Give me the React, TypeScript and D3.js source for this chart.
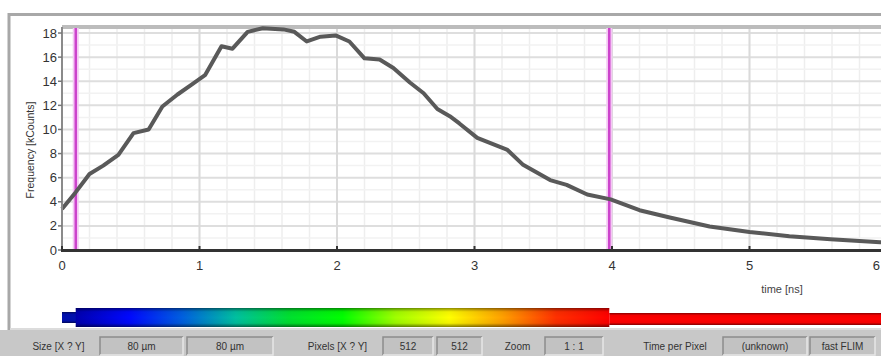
import React, { useEffect, useRef } from "react";
import * as d3 from "d3";

// decay curve (time in ns, frequency in kCounts)
const times = [0, 0.1, 0.2, 0.3, 0.41, 0.52, 0.63, 0.73, 0.84, 0.94, 1.04, 1.16, 1.24, 1.35, 1.46, 1.61, 1.69, 1.78, 1.88, 1.99, 2.09, 2.2, 2.31, 2.41, 2.53, 2.63, 2.73, 2.82, 2.89, 3.02, 3.24, 3.35, 3.55, 3.67, 3.82, 3.99, 4.2, 4.42, 4.71, 5.0, 5.29, 5.59, 5.95, 6.0];
const counts = [3.4, 4.8, 6.3, 7.0, 7.9, 9.7, 10.0, 11.9, 12.9, 13.7, 14.5, 16.9, 16.7, 18.1, 18.4, 18.3, 18.1, 17.3, 17.7, 17.8, 17.3, 15.9, 15.8, 15.1, 13.9, 13.0, 11.7, 11.1, 10.5, 9.3, 8.3, 7.1, 5.8, 5.4, 4.6, 4.2, 3.3, 2.7, 1.95, 1.5, 1.15, 0.9, 0.65, 0.6];

const markerTimes = [0.1, 3.98];
const xTicks = [0, 1, 2, 3, 4, 5, 6];
const yTicks = [0, 2, 4, 6, 8, 10, 12, 14, 16, 18];

const spectrum = ["#0000b0", "#0008ff", "#0060e0", "#00c0a0", "#00e030", "#00ff00", "#a0ff00", "#ffff00", "#ffa000", "#ff3000", "#ff0000"];

const statusLabels = ["Size [X ? Y]", "80 µm", "80 µm", "Pixels [X ? Y]", "512", "512", "Zoom", "1 : 1", "Time per Pixel", "(unknown)", "fast FLIM"];
const statusBoxed = [false, true, true, false, true, true, false, true, false, true, true];
const statusSpans = [[20, 97], [100, 183], [187, 273], [295, 380], [383, 433], [437, 482], [495, 540], [545, 603], [630, 720], [723, 807], [810, 875]];

const W = 881;
const H = 356;

const App = () => {
  const ref = useRef<SVGSVGElement>(null);

  useEffect(() => {
    const svg = d3.select(ref.current);
    svg.selectAll("*").remove();
    const font = "Arial, 'Liberation Sans', sans-serif";

    const x = d3.scaleLinear().domain([0, 6]).range([62, 887]);
    const y = d3.scaleLinear().domain([0, 18.5]).range([250, 27]);

    // outer frame
    svg.append("rect").attr("x", 0).attr("y", 0).attr("width", W).attr("height", H).attr("fill", "#fff");
    svg.append("line").attr("x1", 8).attr("x2", W).attr("y1", 14.5).attr("y2", 14.5).attr("stroke", "#a8a8a8").attr("stroke-width", 3);
    svg.append("line").attr("x1", 9).attr("x2", 9).attr("y1", 13).attr("y2", 330).attr("stroke", "#a8a8a8").attr("stroke-width", 3);

    const g = svg.append("g");

    // minor grid
    const minorX = d3.range(0, 6.01, 0.2);
    g.selectAll(".mx").data(minorX).enter().append("line")
      .attr("x1", (d) => x(d)).attr("x2", (d) => x(d))
      .attr("y1", y(18.5)).attr("y2", y(0))
      .attr("stroke", "#eeeeee").attr("stroke-width", 1.5);
    g.selectAll(".my").data(d3.range(1, 18.5, 2)).enter().append("line")
      .attr("x1", 62).attr("x2", W)
      .attr("y1", (d) => y(d)).attr("y2", (d) => y(d))
      .attr("stroke", "#f2f2f2").attr("stroke-width", 1.5);

    // major grid
    g.selectAll(".gy").data(yTicks.slice(1)).enter().append("line")
      .attr("x1", 62).attr("x2", W)
      .attr("y1", (d) => y(d)).attr("y2", (d) => y(d))
      .attr("stroke", "#dedede").attr("stroke-width", 2);
    g.selectAll(".gx").data(xTicks.slice(1)).enter().append("line")
      .attr("x1", (d) => x(d)).attr("x2", (d) => x(d))
      .attr("y1", y(18.5)).attr("y2", y(0))
      .attr("stroke", "#dadada").attr("stroke-width", 2);

    // top band of plot
    g.append("rect").attr("x", 62).attr("y", 25).attr("width", W - 62).attr("height", 4).attr("fill", "#bcbcbc");

    // markers
    markerTimes.forEach((t) => {
      g.append("line").attr("x1", x(t)).attr("x2", x(t)).attr("y1", 28).attr("y2", 250)
        .attr("stroke", "#f4c8f4").attr("stroke-width", 6);
      g.append("line").attr("x1", x(t)).attr("x2", x(t)).attr("y1", 28).attr("y2", 250)
        .attr("stroke", "#cc44cc").attr("stroke-width", 2.5);
    });

    // curve
    const line = d3.line<number>().x((d, i) => x(times[i])).y((d) => y(d)).curve(d3.curveLinear);
    g.append("path").datum(counts).attr("d", line)
      .attr("fill", "none").attr("stroke", "#595959").attr("stroke-width", 4)
      .attr("stroke-linejoin", "round");

    // axes
    g.append("line").attr("x1", 62).attr("x2", 62).attr("y1", 27).attr("y2", 251)
      .attr("stroke", "#8a8a8a").attr("stroke-width", 2);
    g.append("line").attr("x1", 61).attr("x2", W).attr("y1", 250.5).attr("y2", 250.5)
      .attr("stroke", "#333").attr("stroke-width", 3);
    g.selectAll(".ty").data(yTicks).enter().append("line")
      .attr("x1", 58).attr("x2", 62).attr("y1", (d) => y(d)).attr("y2", (d) => y(d))
      .attr("stroke", "#777").attr("stroke-width", 1.5);
    g.selectAll(".tx").data(xTicks).enter().append("line")
      .attr("x1", (d) => x(d)).attr("x2", (d) => x(d)).attr("y1", 246).attr("y2", 252)
      .attr("stroke", "#333").attr("stroke-width", 2);

    g.selectAll(".ly").data(yTicks).enter().append("text")
      .attr("x", 57).attr("y", (d) => y(d) + 4.5)
      .attr("text-anchor", "end").attr("font-family", font).attr("font-size", 13)
      .attr("fill", "#333").text((d) => d);
    // last x label would fall past the edge, so pin it to the edge
    g.selectAll(".lx").data(xTicks).enter().append("text")
      .attr("x", (d) => Math.min(x(d), W - 1))
      .attr("y", 270)
      .attr("text-anchor", (d) => (x(d) > W - 5 ? "end" : "middle"))
      .attr("font-family", font).attr("font-size", 13)
      .attr("fill", "#333").text((d) => d);

    g.append("text").attr("transform", "translate(34,150) rotate(-90)")
      .attr("text-anchor", "middle").attr("font-family", font).attr("font-size", 10.5)
      .attr("fill", "#333").text("Frequency [kCounts]");
    g.append("text").attr("x", 782).attr("y", 293)
      .attr("text-anchor", "middle").attr("font-family", font).attr("font-size", 11)
      .attr("fill", "#444").text("time [ns]");

    // colour bar
    const defs = svg.append("defs");
    const grad = defs.append("linearGradient").attr("id", "spec").attr("x1", "0").attr("x2", "1").attr("y1", "0").attr("y2", "0");
    spectrum.forEach((c, i) => {
      grad.append("stop").attr("offset", i / (spectrum.length - 1)).attr("stop-color", c);
    });
    const shade = defs.append("linearGradient").attr("id", "shade").attr("x1", "0").attr("x2", "0").attr("y1", "0").attr("y2", "1");
    [[0, 0.45], [0.2, 0.05], [0.5, 0], [0.8, 0.05], [1, 0.5]].forEach(([o, a]) => {
      shade.append("stop").attr("offset", o).attr("stop-color", "#000").attr("stop-opacity", a);
    });

    const barX0 = x(0.1);
    const barX1 = x(3.98);
    svg.append("rect").attr("x", 62).attr("y", 312).attr("width", barX0 - 62 + 2).attr("height", 11).attr("fill", "#0010b0");
    svg.append("rect").attr("x", 62).attr("y", 312).attr("width", barX0 - 62 + 2).attr("height", 11).attr("fill", "url(#shade)");
    svg.append("rect").attr("x", barX1).attr("y", 313).attr("width", W - barX1).attr("height", 12).attr("fill", "#ff0000");
    svg.append("rect").attr("x", barX1).attr("y", 313).attr("width", W - barX1).attr("height", 12).attr("fill", "url(#shade)");
    svg.append("rect").attr("x", barX0).attr("y", 308).attr("width", barX1 - barX0).attr("height", 19).attr("fill", "url(#spec)");
    svg.append("rect").attr("x", barX0).attr("y", 308).attr("width", barX1 - barX0).attr("height", 19).attr("fill", "url(#shade)");
    svg.append("line").attr("x1", 10).attr("x2", W).attr("y1", 329).attr("y2", 329).attr("stroke", "#dcdcdc").attr("stroke-width", 2);

    // status bar
    svg.append("rect").attr("x", 0).attr("y", 330).attr("width", W).attr("height", H - 330).attr("fill", "#c8c8c8");
    statusLabels.forEach((s, i) => {
      const [a, b] = statusSpans[i];
      if (statusBoxed[i]) {
        svg.append("rect").attr("x", a).attr("y", 337).attr("width", b - a).attr("height", 18).attr("fill", "#c2c2c2");
        svg.append("path").attr("d", `M${a},355V337H${b}`).attr("fill", "none").attr("stroke", "#8c8c8c").attr("stroke-width", 1.5);
        svg.append("path").attr("d", `M${b},337V355H${a}`).attr("fill", "none").attr("stroke", "#e6e6e6").attr("stroke-width", 1.5);
      }
      svg.append("text").attr("x", (a + b) / 2).attr("y", 350)
        .attr("text-anchor", "middle").attr("font-family", font).attr("font-size", 10)
        .attr("fill", "#333").text(s);
    });
  }, []);

  return (
    <svg
      ref={ref}
      width={W}
      height={H}
      style={{ position: "absolute", left: 0, top: 0, display: "block" }}
    ></svg>
  );
};

export default App;
